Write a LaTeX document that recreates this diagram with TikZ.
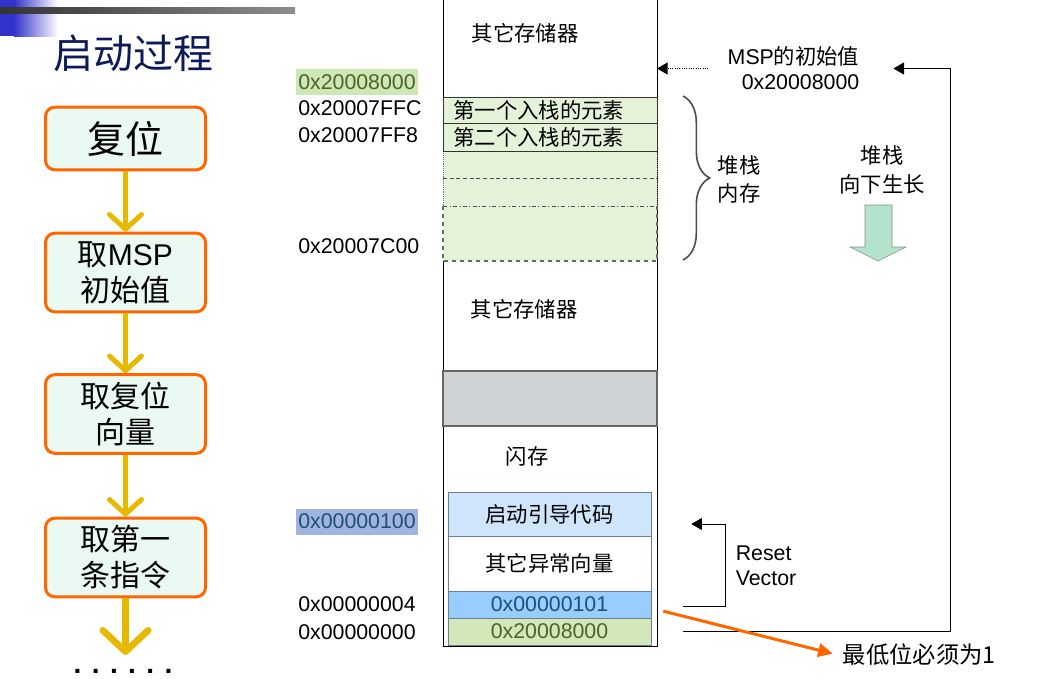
\documentclass[tikz,border=0pt]{standalone}
\usepackage{fontspec}
\setmainfont{Liberation Sans}
\newfontfamily\cjk{Noto Sans CJK SC}
\usetikzlibrary{arrows.meta,decorations.pathreplacing}

\definecolor{headBlue}{RGB}{51,51,204}
\definecolor{titleBlue}{RGB}{12,26,90}
\definecolor{flowOrange}{RGB}{255,102,0}
\definecolor{flowFill}{RGB}{234,249,242}
\definecolor{flowGold}{RGB}{230,185,0}
\definecolor{stackGreen}{RGB}{228,242,215}
\definecolor{stackEdge}{RGB}{100,112,90}
\definecolor{spGreen}{RGB}{211,232,186}
\definecolor{spText}{RGB}{79,98,40}
\definecolor{resetBlue}{RGB}{153,204,255}
\definecolor{resetText}{RGB}{31,78,121}
\definecolor{bootBlue}{RGB}{207,229,251}
\definecolor{addrHiGreen}{RGB}{205,232,181}
\definecolor{addrHiBlue}{RGB}{160,180,224}
\definecolor{bandGray}{RGB}{208,211,214}
\definecolor{growMint}{RGB}{180,227,203}
\definecolor{cellEdge}{RGB}{110,125,140}

\tikzset{
  flowbox/.style={draw=flowOrange, line width=2.25pt, fill=flowFill, rounded corners=7pt,
    minimum width=120pt, align=center, font=\cjk\fontsize{22.5}{27}\selectfont},
  flowarrow/.style={draw=flowGold, line width=3.75pt, -{Straight Barb[length=11pt,width=24pt,round]}},
  addr/.style={anchor=west, inner xsep=1.5pt, inner ysep=0pt, minimum height=19.5pt, font=\fontsize{16}{19}\selectfont},
  memcell/.style={draw=cellEdge, minimum width=152.25pt, inner sep=0pt, font=\cjk\fontsize{16}{19}\selectfont},
  stackcell/.style={draw=black!80, fill=stackGreen, minimum width=160.5pt, text width=145pt, inner xsep=7.5pt,
    inner ysep=0pt, align=left, font=\cjk\fontsize{16}{19}\selectfont},
  memtext/.style={font=\cjk\fontsize{16}{19}\selectfont},
  sidenote/.style={font=\cjk\fontsize{16}{21}\selectfont, align=left},
  ptr/.style={line width=0.75pt, -{Triangle[length=8pt,width=9pt]}},
}

\begin{document}
\begin{tikzpicture}[x=0.75pt, y=-0.75pt]
\useasboundingbox (0,0) rectangle (1038,678);

\fill[headBlue] (0,0) rectangle (14,36);
\shade[left color=headBlue, right color=white] (14,0) rectangle (58,36);
\shade[left color=black!80, right color=black!45] (0,7) rectangle (295,13);
\node[font=\cjk\fontsize{30}{36}\selectfont, text=titleBlue] (title) at (133,53) {启动过程};

\node[flowbox, minimum height=47pt, font=\cjk\fontsize{28.5}{34}\selectfont] (reset) at (125.5,138.5) {复位};
\node[flowbox, minimum height=59pt] (getmsp) at (125.5,272.5) {取{\rmfamily MSP}\\初始值};
\node[flowbox, minimum height=59pt] (getvec) at (125.5,414) {取复位\\向量};
\node[flowbox, minimum height=59pt] (getinst) at (125.5,557.5) {取第一\\条指令};
\coordinate (more) at (125.5,655);
\node[anchor=base, inner sep=0pt, font=\bfseries\fontsize{21}{24}\selectfont] (dots) at (123,673) {. . . . . .};

\draw[flowarrow] (reset) -- (getmsp);
\draw[flowarrow] (getmsp) -- (getvec);
\draw[flowarrow] (getvec) -- (getinst);
\draw[flowarrow, line width=5pt, -{Straight Barb[length=16pt,width=34pt,round]}] (getinst) -- (more);

\coordinate (colTR) at (657,0);
\draw[line width=0.75pt] (443,0) -- (443,646) -- (657,646) -- (657,0);
\node[memtext] (othertop) at (525,33) {其它存储器};

\fill[stackGreen] (443,151) rectangle (657,261);
\draw[black!55, densely dotted] (443,206) -- (443,151) -- (657,151) -- (657,206);
\draw[black!70, densely dashed] (443,178) -- (657,178);
\draw[black!70, dash dot] (443,206) -- (657,206);
\draw[stackEdge, dashed, line width=1.5pt] (443,206) -- (443,261) -- (657,261) -- (657,206);
\node[stackcell, minimum height=19.5pt] (push1) at (550,110) {第一个入栈的元素};
\node[stackcell, minimum height=21pt] (push2) at (550,137) {第二个入栈的元素};

\node[memtext] (othermid) at (524,309) {其它存储器};
\draw[draw=black!60, line width=1.2pt, fill=bandGray] (443,371) rectangle (657,426);
\node[memtext] (flash) at (527,456) {闪存};
\node[memcell, fill=bootBlue, minimum height=33pt] (boot) at (549.5,514) {启动引导代码};
\node[memcell, minimum height=41.25pt] (othervec) at (549.5,563.5) {其它异常向量};
\node[memcell, fill=resetBlue, minimum height=20.25pt, text=resetText, font=\fontsize{16}{19}\selectfont] (resetvec) at (549.5,604.5) {0x00000101};
\node[memcell, fill=spGreen, minimum height=20.25pt, text=spText, font=\fontsize{16}{19}\selectfont] (initsp) at (549.5,631.5) {0x20008000};

\node[addr, fill=addrHiGreen, text=spText] (a8000) at (296,82) {0x20008000};
\node[addr] (a7ffc) at (296,108) {0x20007FFC};
\node[addr] (a7ff8) at (296,135) {0x20007FF8};
\node[addr] (a7c00) at (296,246) {0x20007C00};
\node[addr, fill=addrHiBlue, text=resetText] (a0100) at (296,521.5) {0x00000100};
\node[addr] (a0004) at (296,604) {0x00000004};
\node[addr] (a0000) at (296,632) {0x00000000};

\node[anchor=east, align=right, font=\fontsize{16}{18.75}\selectfont] (mspinit) at (864,68.5) {MSP{\cjk 的初始值}\\0x20008000};
\draw[black!70, line width=1.2pt, decorate, decoration={brace, amplitude=20pt}] (683,96) -- (683,260);
\node[sidenote] (stackmem) at (739,179) {堆栈\\内存};
\node[sidenote, align=center, font=\cjk\fontsize{16}{21.75}\selectfont] (growlbl) at (882,169.5) {堆栈\\向下生长};
\draw[draw=black!45, fill=growMint] (865,205) -- (892,205) -- (892,247) -- (906,247) -- (878,261) -- (850,247) -- (865,247) -- cycle;
\node[align=left, font=\fontsize{16}{18.75}\selectfont] (resetlbl) at (766,565.5) {Reset\\Vector};
\node[anchor=west, font=\cjk\fontsize{17.5}{20}\selectfont] (lowbit) at (838,655) {最低位必须为1};

\draw[ptr, densely dotted] ([xshift=-11pt]mspinit.west) -- (mspinit.west -| colTR);
\draw[ptr] ([xshift=24pt]initsp.east) -| ([xshift=65pt]mspinit.east) -- ([xshift=22pt]mspinit.east);
\draw[ptr] ([xshift=24pt,yshift=-1.5pt]resetvec.east) -- ++(32pt,0) |- ([xshift=30pt,yshift=-7.5pt]boot.east);
\draw[flowOrange, line width=2.25pt, -{Triangle[length=11pt,width=10pt]}, shorten >=4pt] ([xshift=9pt,yshift=-5pt]resetvec.east) -- (lowbit.west);
\end{tikzpicture}
\end{document}
